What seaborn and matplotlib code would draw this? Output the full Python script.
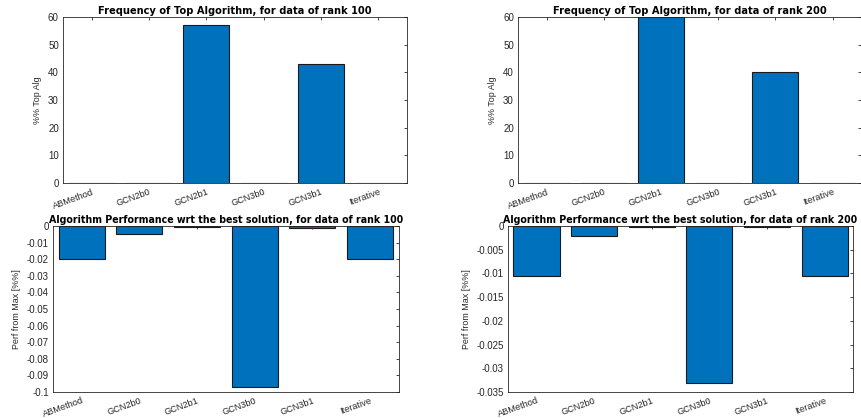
import matplotlib
matplotlib.use("Agg")
import matplotlib.pyplot as plt
import seaborn as sns
import pandas as pd

# Algorithms compared
algorithms = ["ABMethod", "GCN2b0", "GCN2b1", "GCN3b0", "GCN3b1", "Iterative"]

# Share of runs where each algorithm was the best (%)
top_freq_rank100 = [0, 0, 57, 0, 43, 0]
top_freq_rank200 = [0, 0, 60, 0, 40, 0]

# Relative performance gap to the best solution
perf_rank100 = [-0.0198, -0.0045, -0.0008, -0.0968, -0.0009, -0.0198]
perf_rank200 = [-0.0105, -0.0021, -0.0002, -0.0331, -0.0003, -0.0105]

sns.set_theme(style="white")
plt.rcParams["font.family"] = ["Liberation Sans", "DejaVu Sans"]

BAR = "#0072BD"
AXC = "#262626"

fig = plt.figure(figsize=(8.62, 4.18), dpi=100)
positions = [
    [0.0731, 0.562, 0.399, 0.397],
    [0.601, 0.562, 0.398, 0.397],
    [0.0615, 0.0622, 0.401, 0.397],
    [0.589, 0.0622, 0.401, 0.397],
]
panels = [
    (top_freq_rank100, "Frequency of Top Algorithm, for data of rank 100", 7.1, "%% Top Alg",
     (0, 60), [0, 10, 20, 30, 40, 50, 60], None),
    (top_freq_rank200, "Frequency of Top Algorithm, for data of rank 200", 7.1, "%% Top Alg",
     (0, 60), [0, 10, 20, 30, 40, 50, 60], None),
    (perf_rank100, "Algorithm Performance wrt the best solution, for data of rank 100", 6.85,
     "Perf from Max [%%]", (-0.1, 0),
     [-0.1, -0.09, -0.08, -0.07, -0.06, -0.05, -0.04, -0.03, -0.02, -0.01, 0],
     ["-0.1", "-0.09", "-0.08", "-0.07", "-0.06", "-0.05", "-0.04", "-0.03", "-0.02", "-0.01", "0"]),
    (perf_rank200, "Algorithm Performance wrt the best solution, for data of rank 200", 6.85,
     "Perf from Max [%%]", (-0.035, 0),
     [-0.035, -0.03, -0.025, -0.02, -0.015, -0.01, -0.005, 0],
     ["-0.035", "-0.03", "-0.025", "-0.02", "-0.015", "-0.01", "-0.005", "0"]),
]

for pos, (vals, title, tsize, ylabel, ylim, yticks, ylabels) in zip(positions, panels):
    ax = fig.add_axes(pos)
    df = pd.DataFrame({"alg": algorithms, "val": vals})
    sns.barplot(data=df, x="alg", y="val", color=BAR, saturation=1, width=0.8,
                edgecolor="#1a1a1a", linewidth=0.8, ax=ax)
    ax.set_xlim(-0.5, 5.5)
    ax.set_ylim(*ylim)
    ax.set_yticks(yticks)
    if ylabels is not None:
        ax.set_yticklabels(ylabels)
    ax.set_xticks(range(len(algorithms)))
    ax.set_xticklabels(algorithms, rotation=20, ha="right", rotation_mode="anchor")
    ax.set_xlabel("")
    ax.set_ylabel(ylabel, fontsize=6.4, color=AXC, labelpad=4)
    ax.set_title(title, fontsize=tsize, fontweight="bold", color="black", pad=2,
                 family=["DejaVu Sans"])
    ax.tick_params(axis="both", direction="in", length=2.5, width=0.6,
                   labelsize=7, colors=AXC, top=True, right=True, pad=3)
    ax.tick_params(axis="x", labelsize=6.6, pad=3)
    for s in ax.spines.values():
        s.set_visible(True)
        s.set_color(AXC)
        s.set_linewidth(0.6)

fig.savefig("out.png", dpi=100)
